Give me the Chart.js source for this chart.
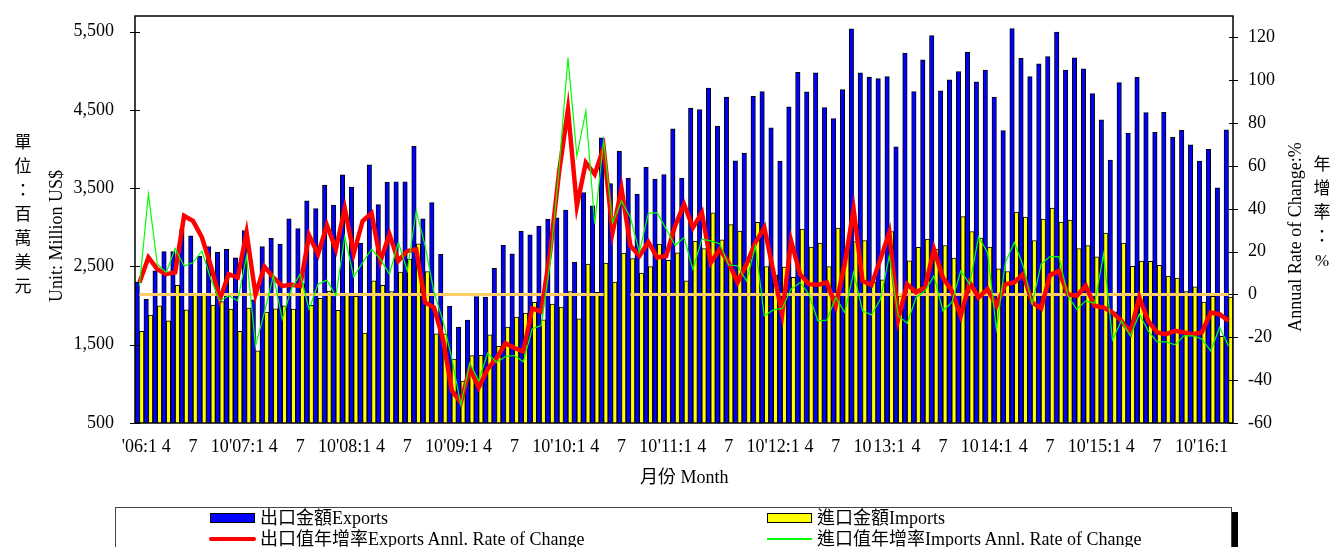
<!DOCTYPE html>
<html>
<head>
<meta charset="utf-8">
<script src="https://cdn.jsdelivr.net/npm/chart.js@4.4.0/dist/chart.umd.min.js"></script>
<style>
  body { margin: 0; background: #fff; }
  #wrap { position: relative; width: 1335px; height: 547px; overflow: hidden;
          font-family: 'Liberation Serif', 'Noto Sans CJK TC', serif; color: #000; }
  #chart { position: absolute; left: 0; top: 0; }
  .lbl { position: absolute; font-size: 18px; line-height: 20px; white-space: nowrap; }
  .stack { position: absolute; font-size: 17px; line-height: 24px; text-align: center; width: 24px; }
  .rot { position: absolute; font-size: 18px; line-height: 20px; white-space: nowrap;
         transform: translate(-50%, -50%) rotate(-90deg); }
  #legend { position: absolute; left: 115px; top: 507px; width: 1115px; height: 60px;
            border: 1px solid #444; box-shadow: 6px 5px 0 #000; background: #fff; }
  .sw { position: absolute; }
</style>
</head>
<body>
<div id="wrap">
  <canvas id="chart" width="1335" height="547"></canvas>

  <div class="stack" style="left:11px; top:131px;">單<br>位<br>：<br>百<br>萬<br>美<br>元</div>
  <div class="rot" style="left:56px; top:236px;">Unit: Million US$</div>
  <div class="rot" style="left:1295px; top:237px;">Annual Rate of Change:%</div>
  <div class="stack" style="left:1310px; top:153px;">年<br>增<br>率<br>：<br>%</div>
  <div class="lbl" style="left:640px; top:467px;">月份 Month</div>

  <div id="legend"></div>
  <div class="sw" style="left:210px; top:513px; width:43px; height:8px; background:#0000FF; border:1px solid #000;"></div>
  <div class="lbl" style="left:260px; top:508px;">出口金額Exports</div>
  <div class="sw" style="left:767px; top:513px; width:43px; height:8px; background:#FFFF00; border:1px solid #000;"></div>
  <div class="lbl" style="left:817px; top:508px;">進口金額Imports</div>
  <div class="sw" style="left:209px; top:537px; width:47px; height:4px; background:#FF0000; border-radius:2px;"></div>
  <div class="lbl" style="left:260px; top:529px;">出口值年增率Exports Annl. Rate of Change</div>
  <div class="sw" style="left:767px; top:538px; width:45px; height:1.5px; background:#00FF00;"></div>
  <div class="lbl" style="left:817px; top:529px;">進口值年增率Imports Annl. Rate of Change</div>
</div>

<script>
// months Jan 2006 .. Mar 2016
const years = [2006, 2007, 2008, 2009, 2010, 2011, 2012, 2013, 2014, 2015, 2016];
const lastYearMonths = 3;

// one label every three months
const quarterLabels = [
  "'06:1", '4', '7', '10', "'07:1", '4', '7', '10', "'08:1", '4', '7', '10',
  "'09:1", '4', '7', '10', "'10:1", '4', '7', '10', "'11:1", '4', '7', '10',
  "'12:1", '4', '7', '10', '13:1', '4', '7', '10', '14:1', '4', '7', '10',
  "'15:1", '4', '7', '10', "'16:1"
];

const leftTicks = [500, 1500, 2500, 3500, 4500, 5500];
const rightTicks = [-60, -40, -20, 0, 20, 40, 60, 80, 100, 120];

// million US$
const exportsVal = [
  2300, 2080, 2445, 2690, 2690, 2975, 2890, 2630, 2755, 2680, 2720, 2610,
  2960, 2075, 2755, 2860, 2785, 3110, 2985, 3340, 3240, 3540, 3285, 3670,
  3515, 2800, 3800, 3290, 3575, 3580, 3580, 4035, 3110, 3315, 2655, 1995,
  1725, 1815, 2115, 2110, 2475, 2770, 2660, 2950, 2905, 3015, 3105, 3120,
  3220, 2555, 3445, 3275, 4145, 3560, 3975, 3630, 3425, 3765, 3615, 3675,
  4260, 3630, 4525, 4505, 4780, 4295, 4665, 3850, 3950, 4675, 4735, 4270,
  3845, 4540, 4980, 4730, 4975, 4530, 4390, 4760, 5535, 4975, 4920, 4900,
  4925, 4030, 5225, 4735, 5140, 5450, 4745, 4885, 4990, 5240, 4860, 5010,
  4665, 4235, 5540, 5160, 4925, 5090, 5180, 5495, 5010, 5165, 5025, 4710,
  4375, 3860, 4850, 4205, 4915, 4465, 4215, 4470, 4150, 4240, 4055, 3845,
  3995, 3505, 4245
];

const importsVal = [
  1670, 1880, 1998, 1806, 2260, 1947, 2150, 2155, 2005, 2050, 1956, 1670,
  1968, 1423, 1917, 1960, 1998, 1956, 2280, 2002, 2094, 2187, 1940, 2140,
  2117, 1649, 2315, 2258, 2180, 2428, 2594, 2790, 2436, 1640, 1637, 1317,
  1035, 1360, 1363, 1628, 1478, 1726, 1852, 1905, 2042, 1819, 2019, 1981,
  2180, 1830, 2532, 2168, 2543, 2301, 2671, 2602, 2415, 2500, 2786, 2577,
  2675, 2317, 2824, 2730, 3185, 2841, 3034, 2952, 2565, 3064, 2500, 2390,
  2492, 2360, 2977, 2748, 2799, 2500, 2990, 2713, 2819, 2832, 2300, 2330,
  2947, 2125, 2573, 2743, 2850, 2722, 2768, 2607, 3138, 2947, 2862, 2748,
  2470, 2436, 3194, 3131, 2832, 3105, 3246, 3067, 3092, 2730, 2768, 2624,
  2926, 1920, 2799, 2503, 2570, 2564, 2513, 2376, 2352, 2180, 2240, 2045,
  2117, 1606, 2109
];

// annual rate of change, %
const exportsRate = [
  5.6, 17.3, 11.8, 9.5, 10.3, 36.7, 34.3, 26.6, 13.3, -2.2, 9.5, 7.9,
  28.9, 0, 13, 7.9, 4, 4.5, 4, 27.6, 18.8, 32.3, 21.1, 40.1,
  19.1, 34.3, 37.9, 15.7, 28.1, 15.7, 20.3, 21.1, -3.7, -6.1, -20.8, -45,
  -50.4, -34.5, -43.4, -34.8, -29.8, -22.8, -25, -26.6, -6.5, -8, 19.6, 56.9,
  86.4, 41.3, 61.6, 56.1, 68.6, 28.9, 49.4, 22.7, 18, 24.5, 17.3, 18,
  32, 42.1, 31.2, 38.2, 14.9, 21.1, 14.9, 5.6, 14.1, 24.3, 31.2, 11,
  -9.2, 25, 9.5, 4.8, 4.5, 5.6, -5.3, 14.1, 39.8, 6.3, 4.4, 16.5,
  28.9, -11.5, 4.8, 0.9, 3.3, 21.1, 7.9, 1.7, -10, 5.6, -1.4, 2.5,
  -5.3, 4.8, 5.6, 9.5, -3.7, -6.5, 9, 11, 0, -0.6, 4, -5.3,
  -6.1, -8.4, -12.3, -17.7, -1.4, -12.3, -17.7, -18.5, -17, -17.7, -18.5, -17.7,
  -8.4, -9.2, -12.3
];

const importsRate = [
  4, 46.8, 14.1, 10.3, 21.5, 13.3, 14.9, 20.3, 7.1, -3, -0.6, -3,
  18, -24, -8.4, 8.7, -11.5, 2.5, 9.5, -6.9, 4.8, 6.7, -0.6, 27,
  8.2, 14.9, 21.1, 16.5, 9.5, 24.3, 11, 39, 22.7, 0.9, -12.3, -30,
  -51.6, -32, -40.3, -27.4, -31.7, -29, -28.5, -31.4, -16, -14.5, 14.9, 58.4,
  110.5, 64.6, 85.6, 33, 72, 33.5, 43.7, 35.9, 19.7, 37.9, 38.2, 30.5,
  23, 26.6, 11.7, 25.8, 25, 23.7, 13.8, 13.3, 6.3, 22.7, -10, -7.2,
  -6.5, 2.5, 5.6, 0.1, -12.3, -12, -1.4, -8.4, 10.3, -7.6, -9.6, -2.2,
  18, -10, -13.4, -1.4, 1.7, 8.7, -7.6, -3.7, 11, 4.8, 27, 19.6,
  -16.2, 14.9, 24.3, 13.3, -4.5, 14.1, 17.7, 17.7, -0.6, -6.9, -3, -4.1,
  18.8, -21.2, -12.3, -19.3, -9.2, -17, -22.1, -22.1, -23.5, -19.3, -19.3, -20.8,
  -26.3, -15.4, -24
];

// zero reference line (broken for two months in the original)
const zeroLine = exportsVal.map((v, i) => (i === 53 || i === 54) ? null : 0);

const months = [];
years.forEach(y => {
  const n = y === years[years.length - 1] ? lastYearMonths : 12;
  for (let m = 1; m <= n; m++) months.push(y + '-' + String(m).padStart(2, '0'));
});

// plot frame and cross tick marks on both value axes
const frame = {
  id: 'frame',
  afterDatasetsDraw(chart) {
    const { ctx, chartArea: a, scales } = chart;
    ctx.save();
    ctx.strokeStyle = '#000';
    ctx.lineWidth = 1.5;
    ctx.strokeRect(a.left, a.top, a.right - a.left, a.bottom - a.top);
    ctx.lineWidth = 1;
    ctx.beginPath();
    leftTicks.forEach(v => {
      const y = Math.round(scales.y.getPixelForValue(v)) + 0.5;
      ctx.moveTo(a.left - 5, y); ctx.lineTo(a.left + 5, y);
    });
    rightTicks.forEach(v => {
      const y = Math.round(scales.y2.getPixelForValue(v)) + 0.5;
      ctx.moveTo(a.right - 4, y); ctx.lineTo(a.right + 5, y);
    });
    ctx.stroke();
    ctx.restore();
  }
};

// keep the plot area where the original has it
const noPad = s => { s.paddingTop = 0; s.paddingBottom = 0; s.paddingLeft = 0; s.paddingRight = 0; };

Chart.defaults.font.family = "'Liberation Serif', 'Noto Sans CJK TC', serif";
Chart.defaults.color = '#000';

new Chart(document.getElementById('chart'), {
  data: {
    labels: months,
    datasets: [
      { type: 'bar', label: '出口金額Exports', data: exportsVal, yAxisID: 'y',
        backgroundColor: '#0000FF', borderColor: '#000', borderWidth: 1,
        categoryPercentage: 1, barPercentage: 1, order: 4 },
      { type: 'bar', label: '進口金額Imports', data: importsVal, yAxisID: 'y',
        backgroundColor: '#FFFF00', borderColor: '#000', borderWidth: 1,
        categoryPercentage: 1, barPercentage: 1, order: 5 },
      { type: 'line', label: 'zero', data: zeroLine, yAxisID: 'y2',
        borderColor: '#FFCC66', borderWidth: 3, pointRadius: 0, spanGaps: false, order: 2 },
      { type: 'line', label: '出口值年增率Exports Annl. Rate of Change', data: exportsRate, yAxisID: 'y2',
        borderColor: '#FF0000', borderWidth: 4.5, pointRadius: 0, tension: 0, order: 1 },
      { type: 'line', label: '進口值年增率Imports Annl. Rate of Change', data: importsRate, yAxisID: 'y2',
        borderColor: '#00FF00', borderWidth: 1.2, pointRadius: 0, tension: 0, order: 0 }
    ]
  },
  options: {
    responsive: false,
    animation: false,
    devicePixelRatio: 1,
    layout: { padding: { top: 16, bottom: 84, left: 0, right: 0 } },
    plugins: { legend: { display: false }, tooltip: { enabled: false } },
    scales: {
      x: {
        offset: true,
        grid: { display: false, drawTicks: false },
        border: { display: false },
        ticks: {
          autoSkip: false, maxRotation: 0, minRotation: 0, padding: 13,
          font: { size: 18 },
          callback: (v, i) => i % 3 === 0 ? quarterLabels[i / 3] : ''
        },
        afterFit: s => { s.height = 40; noPad(s); }
      },
      y: {
        position: 'left', min: 500, max: 5700,
        grid: { display: false, drawTicks: false },
        border: { display: false },
        ticks: { padding: 21, font: { size: 18 }, callback: v => v.toLocaleString('en-US') },
        afterBuildTicks: s => { s.ticks = leftTicks.map(v => ({ value: v })); },
        afterFit: s => { s.width = 135; noPad(s); }
      },
      y2: {
        position: 'right', min: -60, max: 130,
        grid: { display: false, drawTicks: false },
        border: { display: false },
        ticks: { padding: 15, font: { size: 18 } },
        afterBuildTicks: s => { s.ticks = rightTicks.map(v => ({ value: v })); },
        afterFit: s => { s.width = 102; noPad(s); }
      }
    }
  },
  plugins: [frame]
});
</script>
</body>
</html>
